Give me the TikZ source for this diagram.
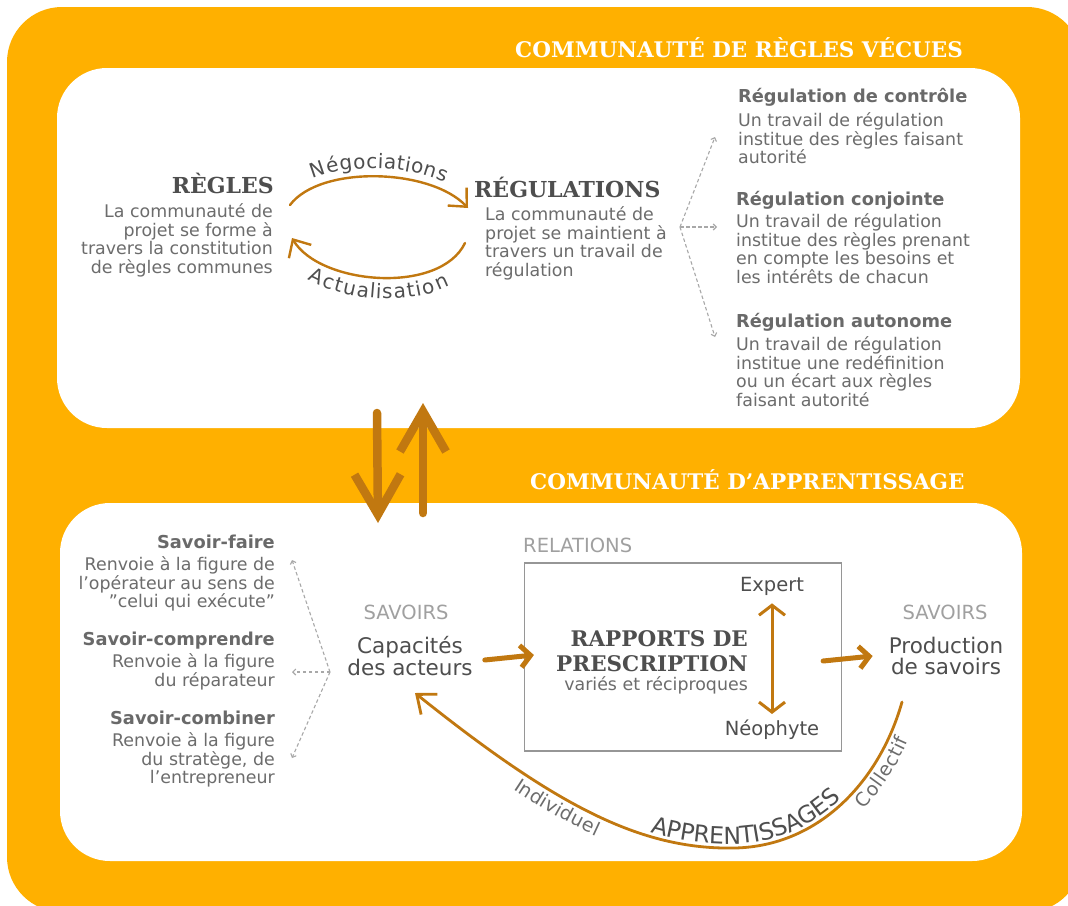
\documentclass[tikz,border=0pt]{standalone}
\usepackage{fontspec}
\setmainfont{DejaVu Serif}
\setsansfont{DejaVu Sans}
\usetikzlibrary{arrows.meta,decorations.text}

\definecolor{bandorange}{RGB}{255,176,0}
\definecolor{arrowbrown}{RGB}{193,120,16}
\definecolor{bodygrey}{RGB}{108,108,108}
\definecolor{headgrey}{RGB}{105,105,105}
\definecolor{titlegrey}{RGB}{78,78,78}
\definecolor{palegrey}{RGB}{160,160,160}
\definecolor{dashgrey}{RGB}{168,168,168}
\definecolor{boxgrey}{RGB}{150,150,150}

\def\outerband{(7,7) rectangle (1082,912)}
\def\toppanel{(57,68) rectangle (1020,428)}
\def\bottompanel{(60,503) rectangle (1022,861)}
\def\negpath{(negstart) .. controls (320,165) and (430,168) .. (negend)}
\def\actpath{(actend) .. controls (320,285) and (440,295) .. (actstart)}
\def\learnpath{(curvetip) .. controls (555,805) and (640,850) .. (735,848) .. controls (820,846) and (880,780) .. (curvestart)}

\tikzset{
  bandtitle/.style={text=white, font=\fontsize{21.5}{24}\selectfont\bfseries, inner sep=0pt, anchor=base west},
  bigword/.style={text=titlegrey, font=\fontsize{22}{25}\selectfont\bfseries, inner sep=0pt},
  bodytext/.style={text=bodygrey, font=\sffamily\fontsize{17.4}{18.6}\selectfont, inner sep=0pt},
  itemhead/.style={text=headgrey, font=\sffamily\fontsize{17.8}{20}\selectfont\bfseries, inner sep=0pt},
  keyword/.style={text=titlegrey, font=\sffamily\fontsize{21.5}{21.5}\selectfont, inner sep=0pt, align=center},
  roleword/.style={text=titlegrey, font=\sffamily\fontsize{19.5}{20}\selectfont, inner sep=0pt},
  paleword/.style={text=palegrey, font=\sffamily\fontsize{19.5}{20}\selectfont, inner sep=0pt},
  fanarrow/.style={dashgrey, line width=1.1pt, dash pattern=on 3.5pt off 2.5pt, -{Straight Barb[length=3pt,width=6pt]}},
  curvearrow/.style={arrowbrown, line width=2.4pt, line cap=round, -{Straight Barb[length=14pt,width=26pt]}},
  brownarrow/.style={arrowbrown, line width=5pt, line cap=round, -{Straight Barb[length=10pt,width=22pt]}},
  duoarrow/.style={arrowbrown, line width=3pt, line cap=round, {Straight Barb[length=10pt,width=26pt]}-{Straight Barb[length=10pt,width=26pt]}},
  thickarrow/.style={arrowbrown, line width=8.5pt, line cap=round, -{Straight Barb[length=40pt,width=46pt]}},
}

\begin{document}
\begin{tikzpicture}[x=1pt,y=-1pt]
\useasboundingbox (0,0) rectangle (1068,905);
\fill[bandorange, rounded corners=55pt] \outerband;
\fill[white, rounded corners=50pt] \toppanel;
\fill[white, rounded corners=50pt] \bottompanel;

\node[bandtitle] (toptitle) at (515,57) {COMMUNAUTÉ DE RÈGLES VÉCUES};
\node[bandtitle] (bottitle) at (530,489) {COMMUNAUTÉ D’APPRENTISSAGE};

% regles <-> regulations
\node[bigword, anchor=base east] (regles) at (274,193) {RÈGLES};
\node[bodytext, align=right, anchor=north east] (reglestxt) at (273,203.5) {La communauté de\\projet se forme à\\travers la constitution\\de règles communes};
\node[bigword, anchor=base west] (regul) at (474,197) {RÉGULATIONS};
\node[bodytext, align=left, anchor=north west] (regultxt) at (485,206.5) {La communauté de\\projet se maintient à\\travers un travail de\\régulation};

\coordinate (negstart) at (290,205);
\coordinate (negend) at (468,208);
\coordinate (actstart) at (465,243);
\coordinate (actend) at (292,238);
\draw[curvearrow] \negpath;
\draw[curvearrow] (actstart) .. controls (440,295) and (320,285) .. (actend);
\path[decorate, decoration={text along path, text align=center, raise=8pt,
  text={|\sffamily\fontsize{20}{20}\selectfont\color{titlegrey}|Négociations}}] \negpath;
\path[decorate, decoration={text along path, text align=center, raise=-21pt,
  text={|\sffamily\fontsize{20}{20}\selectfont\color{titlegrey}|Actualisation}}] \actpath;

% trois regulations
\coordinate (fanR) at (680,227);
\coordinate (ctrltip) at (715,137);
\coordinate (conjtip) at (717,227);
\coordinate (autotip) at (715,337);
\draw[fanarrow] (fanR) -- (ctrltip);
\draw[fanarrow] (fanR) -- (conjtip);
\draw[fanarrow] (fanR) -- (autotip);

\node[itemhead, anchor=base west] (ctrl) at (738,102) {Régulation de contrôle};
\node[bodytext, align=left, anchor=north west] (ctrltxt) at (738,112.5) {Un travail de régulation\\institue des règles faisant\\autorité};
\node[itemhead, anchor=base west] (conj) at (736,205) {Régulation conjointe};
\node[bodytext, align=left, anchor=north west] (conjtxt) at (736,213.5) {Un travail de régulation\\institue des règles prenant\\en compte les besoins et\\les intérêts de chacun};
\node[itemhead, anchor=base west] (auto) at (736,327) {Régulation autonome};
\node[bodytext, align=left, anchor=north west] (autotxt) at (736,336.5) {Un travail de régulation\\institue une redéfinition\\ou un écart aux règles\\faisant autorité};

% entre les deux communautes
\coordinate (downtop) at (377,413);
\coordinate (downtip) at (378,523);
\coordinate (upbot) at (423,513);
\coordinate (uptip) at (423,403);
\draw[thickarrow] (downtop) -- (downtip);
\draw[thickarrow] (upbot) -- (uptip);

% savoirs
\node[itemhead, anchor=base east] (sfaire) at (275,548) {Savoir-faire};
\node[bodytext, align=right, anchor=north east] (sfairetxt) at (275,556.5) {Renvoie à la figure de\\l’opérateur au sens de\\"celui qui exécute"};
\node[itemhead, anchor=base east] (scomp) at (275,645) {Savoir-comprendre};
\node[bodytext, align=right, anchor=north east] (scomptxt) at (275,653.5) {Renvoie à la figure\\du réparateur};
\node[itemhead, anchor=base east] (scomb) at (275,724) {Savoir-combiner};
\node[bodytext, align=right, anchor=north east] (scombtxt) at (275,732.5) {Renvoie à la figure\\du stratège, de\\l’entrepreneur};

\coordinate (fanL) at (330,672);
\coordinate (fairetip) at (292,560);
\coordinate (comptip) at (292,672);
\coordinate (combtip) at (292,758);
\draw[fanarrow] (fanL) -- (fairetip);
\draw[fanarrow] (fanL) -- (comptip);
\draw[fanarrow] (fanL) -- (combtip);

\node[paleword] (savoirsL) at (406,612) {SAVOIRS};
\node[keyword] (capa) at (410,656) {Capacités\\des acteurs};

% relations
\node[paleword, anchor=west] (relations) at (523,545) {RELATIONS};
\node[draw=boxgrey, line width=1.2pt, minimum width=317pt, minimum height=188pt] (box) at (683,657) {};
\node[bigword, font=\fontsize{21.5}{25}\selectfont\bfseries, align=right, anchor=north east] (rapports) at (748,630) {RAPPORTS DE\\PRESCRIPTION};
\node[bodytext, anchor=east] (varies) at (748,685) {variés et réciproques};
\node[roleword] (expert) at (772,586) {Expert};
\node[roleword] (neo) at (772,730) {Néophyte};
\draw[duoarrow] ([yshift=-8pt]expert.south) -- ([yshift=6pt]neo.north);

\node[paleword] (savoirsR) at (945,612) {SAVOIRS};
\node[keyword] (prod) at (946,656) {Production\\de savoirs};

\draw[brownarrow] ([xshift=12pt,yshift=-4pt]capa.east) -- ([xshift=10pt,yshift=2pt]box.west);
\draw[brownarrow] ([xshift=-19pt,yshift=-4pt]box.east) -- ([xshift=-16pt]prod.west);

% apprentissages
\coordinate (curvestart) at (902,702);
\coordinate (curvetip) at (415,693);
\draw[arrowbrown, line width=2.8pt, line cap=round, -{Straight Barb[length=16pt,width=26pt]}]
  (curvestart) .. controls (880,780) and (820,846) .. (735,848) .. controls (640,850) and (555,805) .. (curvetip);
\path[decorate, decoration={text along path, text align={left indent=276pt}, raise=4pt,
  text={|\sffamily\fontsize{23.5}{23.5}\selectfont\color{titlegrey}|APPRENTISSAGES}}] \learnpath;
\path[decorate, decoration={text along path, text align={left indent=135pt}, raise=-19pt,
  text={|\sffamily\fontsize{19}{19}\selectfont\color{bodygrey}|Individuel}}] \learnpath;
\path[decorate, decoration={text along path, text align={left indent=492pt}, raise=-19pt,
  text={|\sffamily\fontsize{19}{19}\selectfont\color{bodygrey}|Collectif}}] \learnpath;
\end{tikzpicture}
\end{document}
